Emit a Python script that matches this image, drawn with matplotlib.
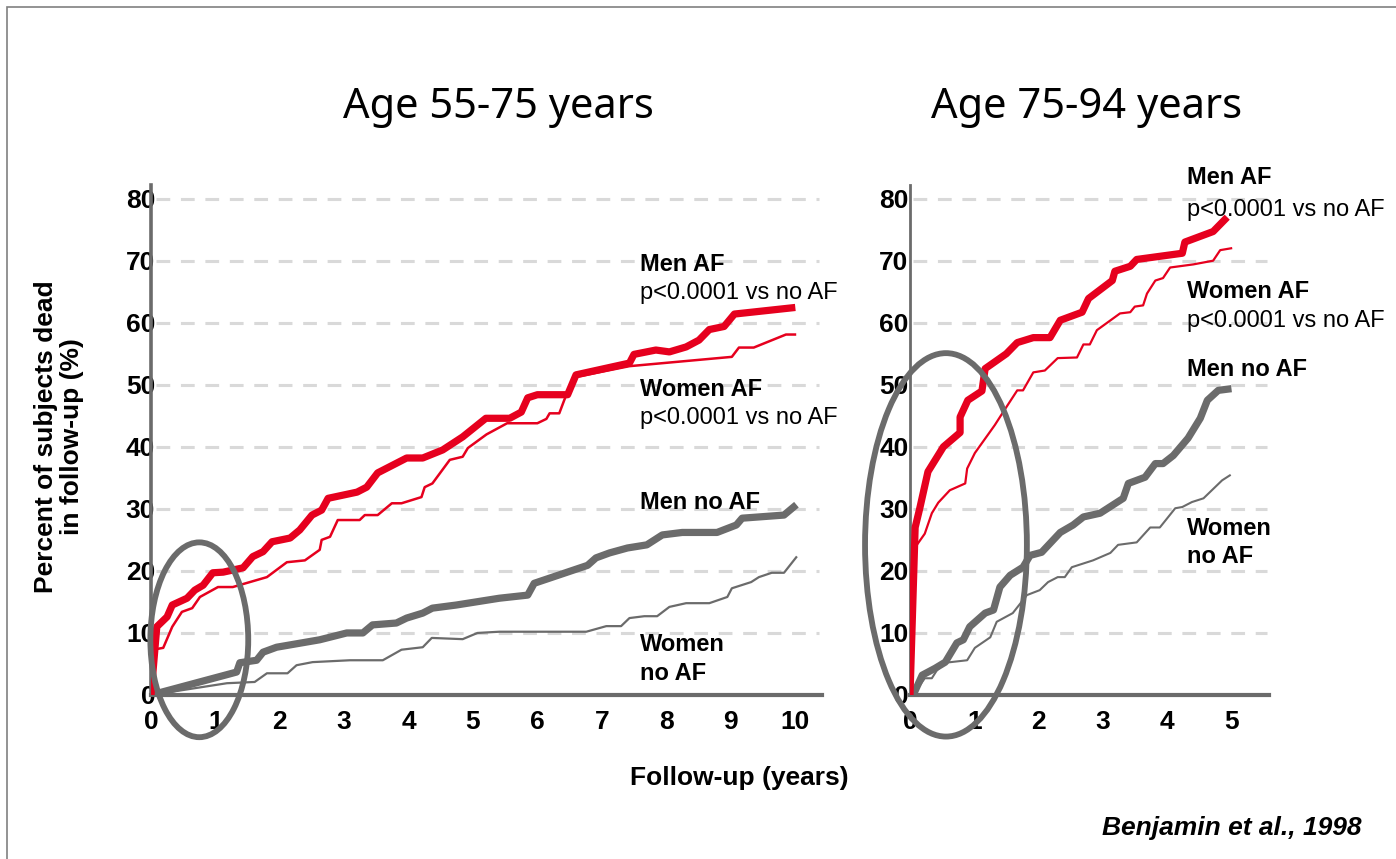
import matplotlib
matplotlib.use("Agg")
from matplotlib import pyplot as plt
from matplotlib.patches import Ellipse, Rectangle

# region data
# Age 55-75 panel (years, % dead)
l_men_af_x = [0, 0.09, 0.25, 0.33, 0.56, 0.68, 0.81, 0.96, 1.12, 1.43, 1.58, 1.74, 1.88, 2.16, 2.31, 2.5,
              2.65, 2.75, 3.2, 3.35, 3.52, 3.97, 4.22, 4.53, 4.84, 5.2, 5.57, 5.75, 5.85, 6.0, 6.47, 6.6,
              7.43, 7.5, 7.84, 8.05, 8.31, 8.51, 8.67, 8.9, 9.06, 9.95]
l_men_af_y = [0, 11, 12.6, 14.5, 15.6, 16.9, 17.7, 19.7, 19.8, 20.5, 22.3, 23.1, 24.7, 25.3, 26.6, 29,
              29.8, 31.7, 32.7, 33.5, 35.8, 38.2, 38.2, 39.5, 41.6, 44.6, 44.6, 45.6, 47.9, 48.4, 48.4, 51.6,
              53.5, 54.9, 55.6, 55.3, 56.1, 57.2, 58.9, 59.4, 61.4, 62.4]
l_women_af_x = [0, 0.03, 0.19, 0.33, 0.48, 0.64, 0.76, 1.04, 1.27, 1.8, 2.11, 2.39, 2.62, 2.65, 2.78, 2.9,
                3.24, 3.32, 3.52, 3.74, 3.89, 4.2, 4.25, 4.37, 4.64, 4.84, 4.92, 5.21, 5.53, 6.0, 6.14,
                6.19, 6.34, 6.42, 6.57, 7.43, 9.02, 9.13, 9.36, 9.86, 10.0]
l_women_af_y = [0, 7.3, 7.6, 11, 13.4, 14, 15.8, 17.4, 17.4, 19, 21.4, 21.7, 23.4, 25, 25.5, 28.2,
                28.2, 29, 29, 30.9, 30.9, 31.9, 33.5, 34.1, 37.9, 38.4, 39.8, 42, 43.8, 43.8, 44.5,
                45.4, 45.4, 47.6, 51.2, 53, 54.5, 56, 56, 58.1, 58.1]
l_men_noaf_x = [0, 1.33, 1.38, 1.64, 1.74, 1.95, 2.62, 3.04, 3.29, 3.44, 3.81, 3.97, 4.22, 4.37, 4.74,
                5.41, 5.85, 5.95, 6.78, 6.91, 7.12, 7.4, 7.7, 7.94, 8.25, 8.79, 9.09, 9.18, 9.83, 9.98]
l_men_noaf_y = [0, 3.7, 5.2, 5.6, 6.9, 7.7, 8.9, 10, 10, 11.3, 11.6, 12.4, 13.2, 14, 14.5,
                15.6, 16.1, 18, 20.9, 22.1, 22.9, 23.7, 24.2, 25.8, 26.2, 26.2, 27.4, 28.5, 29, 30.3]
l_women_noaf_x = [0, 1.18, 1.61, 1.8, 2.12, 2.26, 2.51, 3.09, 3.6, 3.89, 4.22, 4.36, 4.84, 5.07, 5.41,
                  6.76, 7.07, 7.3, 7.43, 7.66, 7.86, 8.05, 8.31, 8.67, 8.95, 9.02, 9.32, 9.44, 9.64,
                  9.83, 10.02]
l_women_noaf_y = [0, 1.9, 2.1, 3.5, 3.5, 4.8, 5.3, 5.6, 5.6, 7.3, 7.7, 9.2, 9.0, 10, 10.2,
                  10.2, 11.1, 11.1, 12.4, 12.7, 12.7, 14.2, 14.8, 14.8, 15.8, 17.2, 18.2, 19, 19.7,
                  19.7, 22.2]

# Age 75-94 panel
r_men_af_x = [0, 0.08, 0.15, 0.28, 0.52, 0.78, 0.78, 0.9, 1.12, 1.17, 1.5, 1.67, 1.92, 2.18, 2.34,
              2.68, 2.78, 3.15, 3.19, 3.43, 3.53, 4.24, 4.28, 4.72, 4.9]
r_men_af_y = [0, 27, 30, 36, 40, 42.3, 44.8, 47.5, 49, 52.6, 55, 56.8, 57.6, 57.6, 60.4,
              61.7, 63.9, 66.8, 68.3, 69.1, 70.2, 71.2, 73, 74.7, 76.6]
r_women_af_x = [0, 0.08, 0.23, 0.34, 0.44, 0.62, 0.86, 0.89, 1.01, 1.21, 1.32, 1.45, 1.67, 1.76,
                1.92, 2.1, 2.3, 2.6, 2.7, 2.8, 2.91, 3.27, 3.43, 3.5, 3.63, 3.69, 3.82, 3.94, 4.05,
                4.41, 4.72, 4.83, 5.0]
r_women_af_y = [0, 23.8, 26, 29.3, 31, 33, 34.1, 36.5, 39, 41.9, 43.5, 45.6, 49.1, 49.1,
                52, 52.3, 54.3, 54.4, 56.5, 56.5, 58.8, 61.5, 61.7, 62.6, 62.8, 64.7, 66.8, 67.2, 68.9,
                69.4, 70, 71.7, 72]
r_men_noaf_x = [0.05, 0.19, 0.39, 0.55, 0.73, 0.83, 0.93, 1.17, 1.3, 1.4, 1.56, 1.76, 1.87, 2.05,
                2.34, 2.54, 2.7, 2.96, 3.32, 3.4, 3.66, 3.82, 3.94, 4.1, 4.33, 4.52, 4.63, 4.8, 4.95]
r_men_noaf_y = [0, 3.2, 4.3, 5.3, 8.4, 8.9, 11, 13.2, 13.7, 17.4, 19.3, 20.6, 22.5, 23,
                26.2, 27.4, 28.7, 29.3, 31.7, 34.1, 35.1, 37.3, 37.3, 38.6, 41.4, 44.6, 47.5, 49.1, 49.3]
r_women_noaf_x = [0.05, 0.23, 0.34, 0.42, 0.55, 0.89, 1.01, 1.25, 1.35, 1.6, 1.82, 2.02, 2.15, 2.3,
                  2.41, 2.52, 2.85, 3.12, 3.24, 3.53, 3.74, 3.89, 4.13, 4.24, 4.39, 4.57, 4.86, 4.98]
r_women_noaf_y = [0, 2.7, 2.7, 4.0, 5.2, 5.6, 7.6, 9.3, 11.8, 13.2, 16.1, 16.9, 18.2, 19,
                  19, 20.6, 21.7, 22.9, 24.2, 24.6, 27, 27, 30.1, 30.3, 31.1, 31.7, 34.6, 35.4]

titles = ["Age 55-75 years", "Age 75-94 years"]
y_ticks = [0, 10, 20, 30, 40, 50, 60, 70, 80]
l_x_ticks = [0, 1, 2, 3, 4, 5, 6, 7, 8, 9, 10]
r_x_ticks = [0, 1, 2, 3, 4, 5]
# endregion

RED = "#e6001e"
GRAY = "#6b6b6b"
GRID = "#d9d9d9"
W, H = 1396, 859

plt.rcParams['font.family'] = ['Liberation Sans', 'DejaVu Sans']

fig = plt.figure(figsize=(W / 100, H / 100), dpi=100)


def px_axes(x0, x1, y0, y1):
    """Axes from pixel box (left, right, bottom(y of zero), top)."""
    return fig.add_axes([x0 / W, 1 - y0 / H, (x1 - x0) / W, (y0 - y1) / H])


def style(ax, xmax, xticks, spine_lw, ypad):
    ax.set_xlim(0, xmax)
    ax.set_ylim(0, 82.2)
    for s in ['top', 'right']:
        ax.spines[s].set_visible(False)
    ax.spines['left'].set_color(GRAY)
    ax.spines['left'].set_linewidth(spine_lw)
    ax.spines['bottom'].set_color(GRAY)
    ax.spines['bottom'].set_linewidth(3)
    ax.set_xticks(xticks)
    ax.set_yticks(y_ticks)
    ax.tick_params(axis='both', length=0, labelsize=19)
    ax.tick_params(axis='y', pad=ypad)
    ax.tick_params(axis='x', pad=11)
    for lab in ax.get_xticklabels() + ax.get_yticklabels():
        lab.set_fontweight('bold')
    ax.hlines(y_ticks[1:], xmax * 0.008, xmax * 0.995, colors=GRID, linewidth=2.2,
              linestyles=(0, (4.5, 3.5)), zorder=0)
    ax.patch.set_alpha(0)


def label(ax, x, y, txt, bold=True):
    ax.text(x, y, txt, fontsize=17, fontweight='bold' if bold else 'normal',
            ha='left', va='center')


# left panel
axL = px_axes(151, 822, 695, 185)
style(axL, 10.42, l_x_ticks, 2.6, -3)
axL.plot(l_women_noaf_x, l_women_noaf_y, color=GRAY, lw=1.6, zorder=2)
axL.plot(l_men_noaf_x, l_men_noaf_y, color=GRAY, lw=5.2, zorder=3)
axL.plot(l_women_af_x, l_women_af_y, color=RED, lw=1.8, zorder=2)
axL.plot(l_men_af_x, l_men_af_y, color=RED, lw=5.2, zorder=3)
axL.add_patch(Ellipse((0.75, 8.9), 1.52, 31.4, fill=False, edgecolor=GRAY, lw=4.2,
                      clip_on=False, zorder=4))
label(axL, 7.59, 69.4, "Men AF")
label(axL, 7.59, 64.8, "p<0.0001 vs no AF", bold=False)
label(axL, 7.59, 49.2, "Women AF")
label(axL, 7.59, 44.7, "p<0.0001 vs no AF", bold=False)
label(axL, 7.59, 31.0, "Men no AF")
label(axL, 7.59, 8.1, "Women")
label(axL, 7.59, 3.5, "no AF")

# right panel
axR = px_axes(910, 1269, 695, 185)
style(axR, 5.59, r_x_ticks, 2.0, 1)
axR.plot(r_women_noaf_x, r_women_noaf_y, color=GRAY, lw=1.5, zorder=2)
axR.plot(r_men_noaf_x, r_men_noaf_y, color=GRAY, lw=5.2, zorder=3)
axR.plot(r_women_af_x, r_women_af_y, color=RED, lw=1.6, zorder=2)
axR.plot(r_men_af_x, r_men_af_y, color=RED, lw=5.2, zorder=3)
axR.add_patch(Ellipse((0.56, 24.2), 2.52, 61.8, fill=False, edgecolor=GRAY, lw=4.2,
                      clip_on=False, zorder=4))
label(axR, 4.31, 83.4, "Men AF")
label(axR, 4.31, 78.2, "p<0.0001 vs no AF", bold=False)
label(axR, 4.31, 65.0, "Women AF")
label(axR, 4.31, 60.2, "p<0.0001 vs no AF", bold=False)
label(axR, 4.31, 52.4, "Men no AF")
label(axR, 4.31, 26.9, "Women")
label(axR, 4.31, 22.3, "no AF")

# titles and shared texts
fig.text(498 / W, 1 - 107 / H, titles[0], fontsize=30, family='Noto Sans',
         ha='center', va='center')
fig.text(1087 / W, 1 - 107 / H, titles[1], fontsize=30, family='Noto Sans',
         ha='center', va='center')
fig.text(739 / W, 1 - 778 / H, "Follow-up (years)", fontsize=19, fontweight='bold',
         ha='center', va='center')
fig.text(59 / W, 1 - 437 / H, "Percent of subjects dead\nin follow-up (%)", fontsize=19,
         fontweight='bold', rotation=90, ha='center', va='center', multialignment='center',
         linespacing=1.1)
fig.text(1362 / W, 1 - 828 / H, "Benjamin et al., 1998", fontsize=19, fontweight='bold',
         style='italic', ha='right', va='center')

# slide frame
fig.patches.append(Rectangle((7 / W, -0.1), 1.2, 1.1 - 7 / H, transform=fig.transFigure,
                             fill=False, edgecolor="#808080", lw=1.2))

fig.savefig("out.png", dpi=100)
